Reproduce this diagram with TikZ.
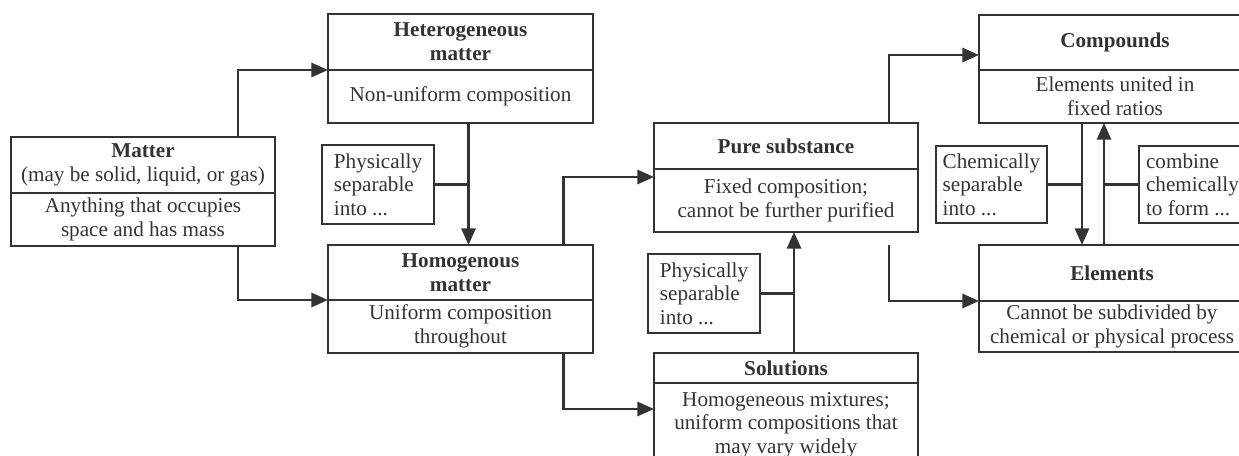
\documentclass[tikz,border=0pt]{standalone}
\usepackage{fontspec}
\setmainfont{Liberation Serif}
\usepackage{xcolor}
\usepackage{tikz}
\usetikzlibrary{arrows.meta, positioning, calc}

\definecolor{ink}{HTML}{333333}
\newlength\px
\setlength\px{0.6pt}
\newcommand\boxfont{\fontsize{12.7pt}{14.2pt}\selectfont}

\begin{document}
\begin{tikzpicture}[x=\px, y=-\px, color=ink, line width=1.5pt,
    every node/.style={font=\boxfont, inner sep=2pt, outer sep=0pt, align=center},
    head/.style 2 args={draw, font=\boxfont\bfseries, minimum width=#1\px, minimum height=#2\px, anchor=north west},
    body/.style 2 args={draw, minimum width=#1\px, minimum height=#2\px},
    note/.style 2 args={draw, align=left, minimum width=#1\px, minimum height=#2\px, anchor=north west},
    arr/.style={-{Triangle[length=10pt, width=8.5pt]}}]
      \useasboundingbox (0,0) rectangle (1239,456);
      \clip (0,0) rectangle (1239,456);

      % Matter
      \node[head={264}{56}] (matterT) at (11,137) {Matter\\\mdseries(may be solid, liquid, or gas)};
      \node[body={264}{53}, below=0pt of matterT] (matterB) {Anything that occupies\\space and has mass};

      % Heterogeneous / homogenous
      \node[head={265}{56}] (heteroT) at (328,14) {Heterogeneous\\matter};
      \node[body={265}{53}, below=0pt of heteroT] (heteroB) {Non-uniform composition};
      \node[head={265}{55}] (homogT) at (328,245) {Homogenous\\matter};
      \node[body={265}{53}, below=0pt of homogT] (homogB) {Uniform composition\\throughout};
      \node[note={112}{79}] (physA) at (322,145) {Physically\\separable\\into ...};

      % Pure substance / solutions
      \node[head={264}{46}] (pureT) at (654,123) {Pure substance};
      \node[body={264}{63}, below=0pt of pureT] (pureB) {Fixed composition;\\cannot be further purified};
      \node[head={264}{30}] (solT) at (654,353) {Solutions};
      \node[body={264}{84}, below=0pt of solT] (solB) {Homogeneous mixtures;\\uniform compositions that\\may vary widely};
      \node[note={112}{79}] (physB) at (648,254) {Physically\\separable\\into ...};

      % Compounds / elements
      \node[head={272}{55}] (compT) at (979,15) {Compounds};
      \node[body={272}{53}, below=0pt of compT] (compB) {Elements united in\\fixed ratios};
      \node[head={266}{56}] (elemT) at (979,245) {Elements};
      \node[body={266}{51}, below=0pt of elemT] (elemB) {Cannot be subdivided by\\chemical or physical process};
      \node[note={111}{77}] (chemA) at (936,146) {Chemically\\separable\\into ...};
      \node[note={107}{77}] (combA) at (1139,146) {combine\\chemically\\to form ...};

      % Arrows
      \draw[arr] ([xshift=95\px]matterT.north) |- (heteroB.north west);
      \draw[arr] ([xshift=95\px]matterB.south) |- (homogB.north west);
      \coordinate (hdrop) at ([xshift=8\px]heteroB.south);
      \draw[arr] (hdrop) -- (hdrop |- homogT.north);
      \draw (physA.east) -- (physA.east -| hdrop);

      \draw[arr] ([xshift=103\px]homogT.north) |- ([yshift=-8\px]pureB.north west);
      \draw[arr] ([xshift=103\px]homogB.south) |- ([yshift=-26\px]solB.north west);
      \coordinate (srise) at ([xshift=8\px]solT.north);
      \draw[arr] (srise) -- (srise |- pureB.south);
      \draw (physB.east) -- (physB.east -| srise);

      \draw[arr] ([xshift=103\px]pureT.north) |- ([yshift=15\px]compT.south west);
      \draw[arr] ([xshift=103\px, yshift=-13\px]pureB.south) |- (elemB.north west);
      \coordinate (cdown) at ([xshift=103\px]compB.south west);
      \coordinate (cup) at ([xshift=125\px]compB.south west);
      \draw[arr] (cdown) -- (cdown |- elemT.north);
      \draw[arr] (cup |- elemT.north) -- (cup);
      \draw (chemA.east) -- (chemA.east -| cdown);
      \draw (combA.west) -- (combA.west -| cup);
    \end{tikzpicture}
\end{document}
